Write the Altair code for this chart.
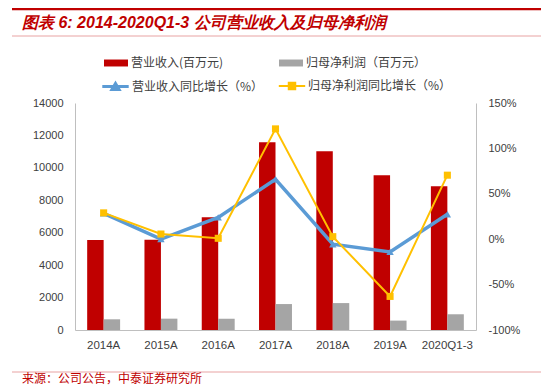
import altair as alt
import pandas as pd

years = ["2014A", "2015A", "2016A", "2017A", "2018A", "2019A", "2020Q1-3"]
revenue = [5550, 5560, 6950, 11580, 11020, 9540, 8860]
profit = [660, 700, 700, 1600, 1660, 580, 970]
rev_growth = [28.5, 0.2, 24.0, 66.0, -5.5, -14.0, 27.5]
profit_growth = [29.0, 5.7, 1.0, 121.5, 2.8, -63.0, 70.5]
left_ticks = [0, 2000, 4000, 6000, 8000, 10000, 12000, 14000]
right_ticks = [-100, -50, 0, 50, 100, 150]

s_rev = "营业收入(百万元)"
s_pro = "归母净利润（百万元）"
s_revg = "营业收入同比增长（%）"
s_prog = "归母净利润同比增长（%）"

title_text = "图表 6:  2014-2020Q1-3 公司营业收入及归母净利润"
source_text = "来源：公司公告，中泰证券研究所"

RED = "#C00000"
GRAY = "#A5A5A5"
BLUE = "#5B9BD5"
YELLOW = "#FFC000"
NUM_FONT = "Liberation Sans"
CJK_FONT = "Noto Sans CJK SC"

df = pd.DataFrame({
    "year": years,
    "revenue": revenue,
    "profit": profit,
    "rev_g": rev_growth,
    "pro_g": profit_growth,
})

x_enc = alt.X(
    "year:N", sort=years,
    scale=alt.Scale(paddingInner=0.425, paddingOuter=0.2125),
    axis=alt.Axis(title=None, labelAngle=0, ticks=False, domainColor="#BFBFBF",
                  labelFont=NUM_FONT, labelFontSize=11.5, labelColor="#404040",
                  labelPadding=9),
)
xoff = alt.XOffset("series:N", scale=alt.Scale(domain=[s_rev, s_pro]))


def left_axis():
    return alt.Axis(title=None, ticks=False, grid=False, domainColor="#BFBFBF",
                    values=left_ticks, labelOverlap=False, tickCount=8,
                    labelFont=NUM_FONT, labelFontSize=11, labelColor="#404040",
                    labelPadding=12, format="d")


def right_axis():
    return alt.Axis(title=None, ticks=False, grid=False, domainColor="#BFBFBF",
                    orient="right", values=right_ticks, labelOverlap=False,
                    labelExpr="datum.value + '%'",
                    labelFont=NUM_FONT, labelFontSize=11, labelColor="#404040",
                    labelPadding=12)


RECT = "M-1,-0.29H1V0.29H-1Z"
TRI = "M-1.1,0H1.1M-0.3,0.26L0,-0.26L0.3,0.26Z"
SQ = "M-1.1,0H1.1M-0.27,-0.27H0.27V0.27H-0.27Z"


def leg(x, y, path, fill, stroke=None, sw=0):
    kw = dict(orient="none", legendX=x, legendY=y, title=None, symbolType=path,
              symbolSize=576, labelFont=CJK_FONT, labelFontSize=12,
              labelColor="#404040", padding=0, labelOffset=3,
              symbolFillColor=fill, symbolOpacity=1)
    if stroke:
        kw.update(symbolStrokeColor=stroke, symbolStrokeWidth=sw)
    else:
        kw.update(symbolStrokeWidth=0)
    return alt.Legend(**kw)


base = alt.Chart(df)
left_scale = alt.Scale(domain=[0, 14000])
right_scale = alt.Scale(domain=[-100, 150])

bar_rev = base.transform_calculate(series=f"'{s_rev}'").mark_bar().encode(
    x=x_enc, xOffset=xoff,
    y=alt.Y("revenue:Q", scale=left_scale, axis=left_axis()),
    color=alt.Color("series:N", scale=alt.Scale(domain=[s_rev], range=[RED]),
                    legend=leg(29, -52, RECT, RED)),
)
bar_pro = base.transform_calculate(series=f"'{s_pro}'").mark_bar().encode(
    x=x_enc, xOffset=xoff,
    y=alt.Y("profit:Q", scale=left_scale, axis=left_axis()),
    color=alt.Color("series:N", scale=alt.Scale(domain=[s_pro], range=[GRAY]),
                    legend=leg(204, -52, RECT, GRAY)),
)
bars = alt.layer(bar_rev, bar_pro).resolve_scale(color="independent")

line_rev = base.transform_calculate(series2=f"'{s_revg}'").mark_line(strokeWidth=3.5).encode(
    x=x_enc, y=alt.Y("rev_g:Q", scale=right_scale, axis=right_axis()),
    color=alt.Color("series2:N", scale=alt.Scale(domain=[s_revg], range=[BLUE]),
                    legend=leg(27, -30, TRI, BLUE, BLUE, 3)),
)
pts_rev = base.mark_point(shape="triangle-up", filled=True, size=55, color=BLUE, opacity=1).encode(
    x=x_enc, y=alt.Y("rev_g:Q", scale=right_scale, axis=right_axis()),
)
line_pro = base.transform_calculate(series3=f"'{s_prog}'").mark_line(strokeWidth=2).encode(
    x=x_enc, y=alt.Y("pro_g:Q", scale=right_scale, axis=right_axis()),
    color=alt.Color("series3:N", scale=alt.Scale(domain=[s_prog], range=[YELLOW]),
                    legend=leg(204, -30, SQ, YELLOW, YELLOW, 2)),
)
pts_pro = base.mark_point(shape="square", filled=True, size=50, color=YELLOW, opacity=1).encode(
    x=x_enc, y=alt.Y("pro_g:Q", scale=right_scale, axis=right_axis()),
)
lines = alt.layer(line_rev, pts_rev, line_pro, pts_pro).resolve_scale(color="independent")

one = pd.DataFrame({"k": [0]})
deco_base = alt.Chart(one)
top_rule = deco_base.mark_rule(color=RED, strokeWidth=2.5).encode(
    x=alt.value(-63), x2=alt.value(466), y=alt.value(-94))
thin_rule = deco_base.mark_rule(color="#E8A3A3", strokeWidth=1).encode(
    x=alt.value(-63), x2=alt.value(466), y=alt.value(-67))
foot_rule = deco_base.mark_rule(color="#E8A3A3", strokeWidth=1).encode(
    x=alt.value(-63), x2=alt.value(466), y=alt.value(269))
title_mark = deco_base.mark_text(align="left", baseline="middle", fontSize=16,
                                 fontWeight="bold", fontStyle="italic", color=RED,
                                 font=NUM_FONT).encode(
    x=alt.value(-53), y=alt.value(-80), text=alt.value(title_text))
source_mark = deco_base.mark_text(align="left", baseline="middle", fontSize=12,
                                  color=RED, font=CJK_FONT).encode(
    x=alt.value(-53), y=alt.value(276), text=alt.value(source_text))

main = alt.layer(bars, lines).resolve_scale(y="independent", color="independent")

chart = alt.layer(main, top_rule, thin_rule, foot_rule, title_mark, source_mark).properties(
    width=401, height=227,
    autosize=alt.AutoSizeParams(type="none"),
    padding={"left": 67, "top": 95, "right": 69, "bottom": 58},
).configure_view(stroke=None)

chart.save("out.html", embed_options={"renderer": "svg", "actions": False})
